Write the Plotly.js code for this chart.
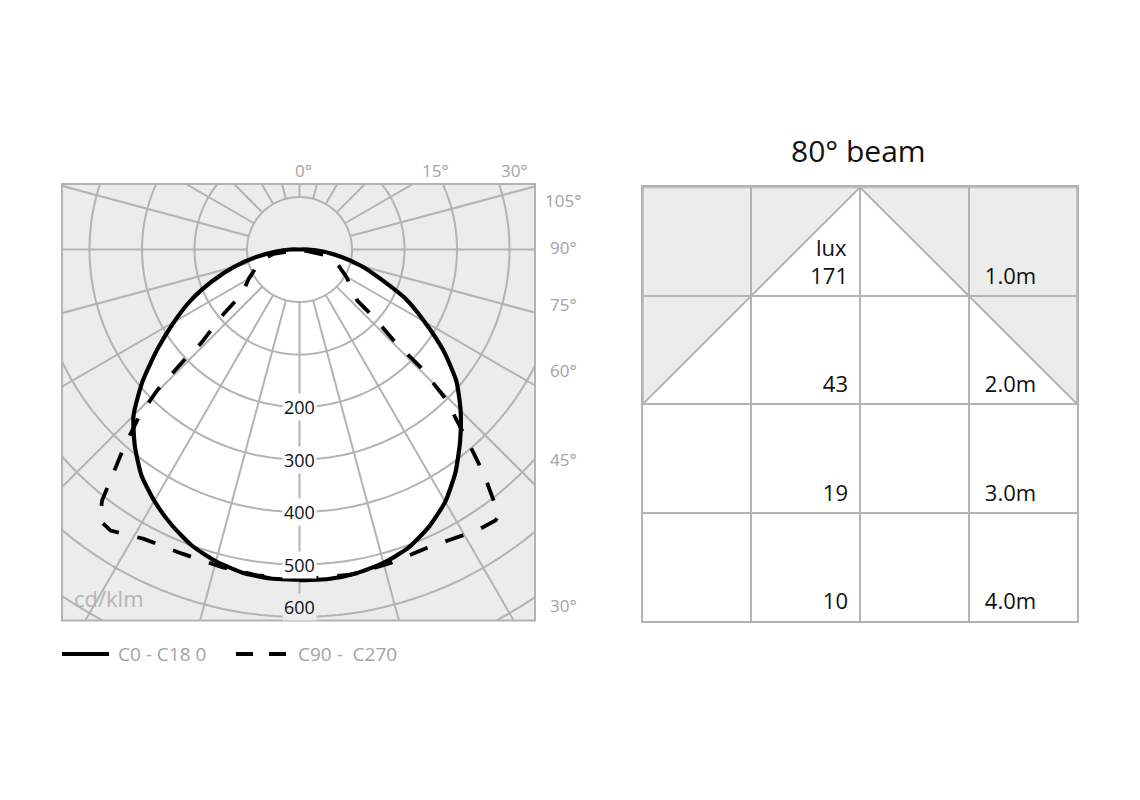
<!DOCTYPE html>
<html><head><meta charset="utf-8">
<script src="https://cdn.plot.ly/plotly-3.0.1.min.js"></script>
<style>
html,body{margin:0;padding:0;background:#fff;width:1140px;height:800px;overflow:hidden;}
#main{position:absolute;left:0;top:0;width:1140px;height:800px;z-index:2;}
#clip{position:absolute;left:62px;top:184px;width:473px;height:436px;overflow:hidden;z-index:1;background:#ebeceb;}
#polar{position:absolute;left:-235.5px;top:-407px;width:945px;height:945px;}
</style></head><body>
<div id="clip"><div id="polar"></div></div>
<div id="main"></div>
<script>
// ---------- data (cd/klm, as read on the labelled rings) ----------
const gammaSolid = [0,5,10,15,20,25,30,35,40,45,50,55,60,65,70,75,80,85,90,180];
const c0   = [530,530,526,518,505,483,455,418,376,334,290,234,175,124,65,23,-20,-55,-83,-100];
const c180 = [529,529,525,515,500,478,453,425,388,347,290,230,176,128,77,30,-15,-55,-83,-100];

const gammaC90 = [0,8.9,16.2,23.2,26.9,32.3,35.9,36.8,37.7,39.4,40.9,41.7,44.4,45.8,46.0,47.7,48.5,59.5,69.2,78,180];
const c90      = [529,527,522,518,522,533,537,533,505,453,398,370,298,222,150,91,47,4,-23,-52,-100];
const gammaC270 = [0,7.4,13.7,21.1,28.3,33.9,36.4,38.2,39.3,41.6,43.8,45.3,46.2,46.4,49.7,52.3,60,74.2,80.5,180];
const c270      = [527,526,523,521,526,545,541,508,469,404,342,282,205,160,89,38,12,-23,-50,-100];

const ringValues  = [0,100,200,300,400,500,600,700,800];
const ringLabels  = [200,300,400,500,600];
const spokeAngles = [0,15,30,45,60,75,90,105,120,135,150,165,180,195,210,225,240,255,270,285,300,315,330,345];
const topAngleLabels  = ['0°','15°','30°'];
const sideAngleLabels = ['105°','90°','75°','60°','45°','30°'];
const unitLabel = 'cd/klm';
const seriesNames = ['C0 - C18 0','C90 -\u00a0 C270'];

const beamTitle = '80° beam';
const distances = [1,2,3,4];
const lux = [171,43,19,10];

// ---------- styles ----------
const GRAY = '#ebeceb', GRID = '#b3b3b3', LBL = '#a3a3a3', FONT = 'Open Sans, Noto Sans, sans-serif';
const RMIN = -100, RMAX = 800, SIZE = 945;
const CX = 299, CY = 249.5, PXU = (SIZE/2)/(RMAX-RMIN);

// ---------- polar figure ----------
function side(g, v, mirror){ return {t: mirror ? g.map(x=>360-x) : g, r: v}; }
function closed(gR, vR, gL, vL){
  const right = side(gR, vR, false);
  const left = side(gL.slice().reverse(), vL.slice().reverse(), true);
  return {theta: right.t.concat(left.t), r: right.r.concat(left.r)};
}
const solid = closed(gammaSolid, c0, gammaSolid, c180);
const dashed = closed(gammaC90, c90, gammaC270, c270);

const ringT = [], ringR = [];
ringValues.forEach(v => { for(let a=0;a<=360;a+=2){ ringT.push(a); ringR.push(v);} ringT.push(null); ringR.push(null); });
const spokeT = [], spokeR = [];
spokeAngles.forEach(a => { spokeT.push(a,a,null); spokeR.push(ringValues[0], RMAX, null); });

const polarTraces = [
  {type:'scatterpolar', mode:'lines', theta:solid.theta, r:solid.r, fill:'toself', fillcolor:'#ffffff',
   line:{width:0, color:'rgba(0,0,0,0)', shape:'spline', smoothing:0.6}, hoverinfo:'skip'},
  {type:'scatterpolar', mode:'lines', theta:ringT, r:ringR, line:{color:GRID, width:2}, connectgaps:false, hoverinfo:'skip'},
  {type:'scatterpolar', mode:'lines', theta:spokeT, r:spokeR, line:{color:GRID, width:2}, connectgaps:false, hoverinfo:'skip'},
  {type:'scatterpolar', mode:'lines', name:seriesNames[0], theta:solid.theta, r:solid.r,
   line:{color:'#000', width:4.2, shape:'spline', smoothing:0.6}},
  {type:'scatterpolar', mode:'lines', name:seriesNames[1], theta:dashed.theta, r:dashed.r,
   line:{color:'#000', width:3.8, dash:'19px,19px'}}
];
Plotly.newPlot('polar', polarTraces, {
  width:SIZE, height:SIZE, autosize:false, margin:{l:0,r:0,t:0,b:0,pad:0},
  paper_bgcolor:GRAY, showlegend:false,
  polar:{domain:{x:[0,1],y:[0,1]}, bgcolor:GRAY,
    radialaxis:{visible:false, range:[RMIN,RMAX]},
    angularaxis:{visible:false, rotation:-90, direction:'counterclockwise'}}
}, {staticPlot:true, displayModeBar:false});

// ---------- main figure ----------
const W = 1140, H = 800;
const px = x => x/W, py = y => 1 - y/H;
const ann = [];
ann.push({xref:'paper', yref:'paper', x:px(858), y:py(150), text:beamTitle, showarrow:false,
  font:{family:FONT, size:30, color:'#111'}, xanchor:'center', yanchor:'middle'});
const topX = [303, 435, 514];
topAngleLabels.forEach((t,i)=>ann.push({xref:'paper', yref:'paper', x:px(topX[i]), y:py(170), text:t, showarrow:false,
  font:{family:FONT, size:17, color:LBL}, xanchor:'center', yanchor:'middle'}));
const sideY = [200, 247, 304, 370, 460, 605];
sideAngleLabels.forEach((t,i)=>ann.push({xref:'paper', yref:'paper', x:px(563), y:py(sideY[i]), text:t, showarrow:false,
  font:{family:FONT, size:17, color:LBL}, xanchor:'center', yanchor:'middle'}));
ringLabels.forEach(v => {
  let y = CY + (v - RMIN)*PXU;
  if(y > 600) y = 607;
  ann.push({xref:'paper', yref:'paper', x:px(CX), y:py(y), text:String(v), showarrow:false,
    font:{family:FONT, size:18, color:'#111'}, xanchor:'center', yanchor:'middle',
    bgcolor: (v===600 ? GRAY : '#ffffff'), borderpad:1});
});
ann.push({xref:'paper', yref:'paper', x:px(72), y:py(598), text:unitLabel, showarrow:false,
  font:{family:FONT, size:22, color:'#b5b5b5'}, xanchor:'left', yanchor:'middle'});
ann.push({xref:'paper', yref:'paper', x:px(116), y:py(654), text:seriesNames[0], showarrow:false,
  font:{family:FONT, size:19, color:LBL}, xanchor:'left', yanchor:'middle'});
ann.push({xref:'paper', yref:'paper', x:px(296), y:py(654), text:seriesNames[1], showarrow:false,
  font:{family:FONT, size:19, color:LBL}, xanchor:'left', yanchor:'middle'});
ann.push({xref:'x', yref:'y', x:-0.1, y:distances[0]-0.45, text:'lux', showarrow:false,
  font:{family:FONT, size:22, color:'#111'}, xanchor:'right', yanchor:'middle'});

const half = distances[1];   // cone reaches the table edge at this row
const shapes = [
  {type:'path', xref:'x', yref:'y', layer:'below', path:`M ${-half},0 L 0,0 L ${-half},${half} Z`,
   fillcolor:GRAY, line:{color:GRID, width:2}},
  {type:'path', xref:'x', yref:'y', layer:'below', path:`M ${half},0 L 0,0 L ${half},${half} Z`,
   fillcolor:GRAY, line:{color:GRID, width:2}},
  {type:'rect', xref:'paper', yref:'paper', x0:px(62), x1:px(535), y0:py(184), y1:py(620.5),
   line:{color:GRID, width:2}, fillcolor:'rgba(0,0,0,0)'},
  {type:'line', xref:'paper', yref:'paper', x0:px(62), x1:px(109), y0:py(654), y1:py(654), line:{color:'#000', width:4}},
  {type:'line', xref:'paper', yref:'paper', x0:px(236), x1:px(287), y0:py(654), y1:py(654), line:{color:'#000', width:4, dash:'17px,16px'}}
];

const tableTraces = [
  {type:'scatter', mode:'text', x:lux.map(()=>-0.11), y:distances.map(d=>d-0.16), text:lux.map(String),
   textposition:'middle left', textfont:{family:FONT, size:22, color:'#111'}, hoverinfo:'skip', cliponaxis:false},
  {type:'scatter', mode:'text', x:distances.map(()=>1.385), y:distances.map(d=>d-0.16), text:distances.map(d=>d.toFixed(1)+'m'),
   textposition:'middle center', textfont:{family:FONT, size:22, color:'#111'}, hoverinfo:'skip', cliponaxis:false}
];
const axBase = {showticklabels:false, ticks:'', zeroline:false, showgrid:true, gridcolor:GRID, gridwidth:2,
  showline:true, mirror:true, linecolor:GRID, linewidth:2, fixedrange:true};
Plotly.newPlot('main', tableTraces, {
  width:W, height:H, autosize:false, margin:{l:0,r:0,t:0,b:0,pad:0},
  paper_bgcolor:'rgba(0,0,0,0)', plot_bgcolor:'rgba(0,0,0,0)', showlegend:false,
  xaxis:Object.assign({}, axBase, {domain:[642.7/W, 1077.3/W], range:[-2,2], tickvals:[-2,-1,0,1,2]}),
  yaxis:Object.assign({}, axBase, {domain:[1-621/H, 1-187.3/H], range:[4,0], tickvals:[0,1,2,3,4]}),
  annotations:ann, shapes:shapes
}, {staticPlot:true, displayModeBar:false});
</script>
</body></html>
